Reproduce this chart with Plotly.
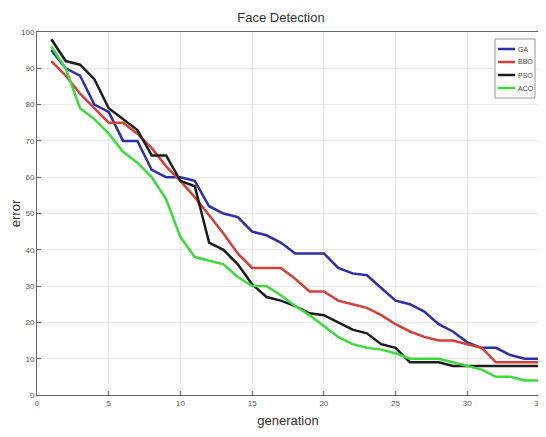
import plotly.graph_objects as go

generation = list(range(1, 36))
ga = [95, 90, 88, 80, 78, 70, 70, 62, 60, 60, 59, 52, 50, 49, 45, 44, 42, 39, 39, 39,
      35, 33.5, 33, 29.5, 26, 25, 23, 19.5, 17.5, 14.5, 13, 13, 11, 10, 10]
bbo = [92, 88, 83, 79, 75, 75, 72, 68, 63, 59, 54.5, 49.5, 44.5, 39, 35, 35, 35, 32, 28.5, 28.5,
       26, 25, 24, 22, 19.5, 17.5, 16, 15, 15, 14, 13, 9, 9, 9, 9]
pso = [98, 92, 91, 87, 79, 76, 73, 66, 66, 59, 57.5, 42, 40, 36, 30.5, 27, 26, 24.5, 22.5, 22,
       20, 18, 17, 14, 13, 9, 9, 9, 8, 8, 8, 8, 8, 8, 8]
aco = [96, 90, 79, 76, 72, 67, 64, 60, 54, 43.5, 38, 37, 36, 32.5, 30, 30, 27.5, 24.5, 22, 19,
       16, 14, 13, 12.5, 11.5, 10, 10, 10, 9, 8, 7, 5, 5, 4, 4]

series = [("GA", ga, "#2e2ea6"), ("BBO", bbo, "#d2403b"),
          ("PSO", pso, "#1c1c1c"), ("ACO", aco, "#3fd83f")]

# the page body adds an 8px offset, so the figure is sized to fit the window
OFF = 8
W, H = 546 - OFF, 437 - OFF
ML, MR, MT, MB = 37 - OFF, 7, 32 - OFF, 42
PW, PH = W - ML - MR, H - MT - MB


def px(xp):  # window pixel -> paper x
    return (xp - OFF - ML) / PW


def py(yp):  # window pixel -> paper y
    return (H - MB - (yp - OFF)) / PH


fig = go.Figure()
for name, vals, col in series:
    fig.add_trace(go.Scatter(x=generation, y=vals, mode="lines", name=name,
                             line=dict(color=col, width=2.5), showlegend=False))

font = "Liberation Sans, Arial, sans-serif"
axis_common = dict(showgrid=True, gridcolor="#e8e8e8", gridwidth=1,
                   showline=True, linecolor="#666", linewidth=1, mirror=True,
                   ticks="inside", ticklen=4, tickcolor="#666",
                   tickfont=dict(size=8, color="#555", family=font),
                   zeroline=False, automargin=False, ticklabeloverflow="allow")

# compact MATLAB-style legend
shapes = [dict(type="rect", xref="paper", yref="paper",
               x0=px(495), x1=px(535), y0=py(98), y1=py(39),
               line=dict(color="#999", width=1), fillcolor="white", layer="above")]
annotations = []
for i, (name, vals, col) in enumerate(series):
    yy = 49 + 13 * i
    shapes.append(dict(type="line", xref="paper", yref="paper",
                       x0=px(498), x1=px(515), y0=py(yy), y1=py(yy),
                       line=dict(color=col, width=2.5), layer="above"))
    annotations.append(dict(text=name, xref="paper", yref="paper",
                            x=px(516), y=py(yy), xanchor="left", yanchor="middle",
                            showarrow=False,
                            font=dict(size=7, color="#444", family=font)))

fig.update_layout(
    width=W, height=H,
    margin=dict(l=ML, r=MR, t=MT, b=MB, autoexpand=False),
    paper_bgcolor="white", plot_bgcolor="white",
    title=dict(text="Face Detection", x=(281 - OFF) / W, xref="container", xanchor="center",
               y=1 - (17 - OFF) / H, yref="container", yanchor="middle",
               font=dict(size=13, color="#333", family=font)),
    xaxis=dict(range=[0, 35], dtick=5, tick0=0,
               title=dict(text="generation", font=dict(size=13, color="#333", family=font),
                          standoff=9),
               **axis_common),
    yaxis=dict(range=[0, 100], dtick=10, tick0=0,
               title=dict(text="error", font=dict(size=13, color="#333", family=font),
                          standoff=10),
               **axis_common),
    shapes=shapes,
    annotations=annotations,
    showlegend=False,
)

fig.write_html("out.html")
